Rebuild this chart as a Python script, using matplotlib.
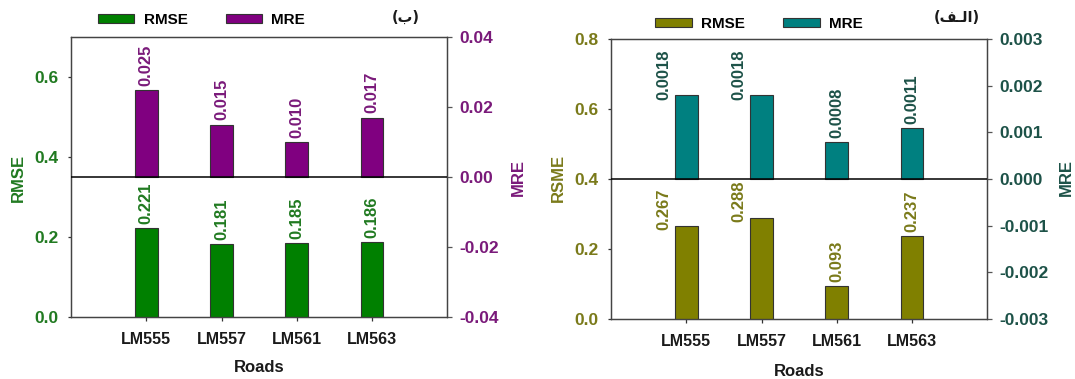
import matplotlib
matplotlib.use("Agg")
import matplotlib.pyplot as plt
import numpy as np

plt.rcParams['font.family'] = ['Liberation Sans', 'DejaVu Sans']
plt.rcParams['font.weight'] = 'bold'

roads = ["LM555", "LM557", "LM561", "LM563"]
rmse_b = [0.221, 0.181, 0.185, 0.186]
mre_b = [0.025, 0.015, 0.010, 0.017]
rmse_a = [0.267, 0.288, 0.093, 0.237]
mre_a = [0.0018, 0.0018, 0.0008, 0.0011]
left_ticks_b = [0.0, 0.2, 0.4, 0.6]
right_ticks_b = [-0.04, -0.02, 0.00, 0.02, 0.04]
left_ticks_a = [0.0, 0.2, 0.4, 0.6, 0.8]
right_ticks_a = [-0.003, -0.002, -0.001, 0.000, 0.001, 0.002, 0.003]

W, H = 1075, 379
fig = plt.figure(figsize=(W / 100, H / 100), dpi=100)

def px_axes(x0, y0, x1, y1):
    return fig.add_axes([x0 / W, 1 - y1 / H, (x1 - x0) / W, (y1 - y0) / H])

def panel(rect, rmse, mre, c1, c2, t1, t2, ylim1, ylim2, lt, rt, lfmt, rfmt,
          ylabel1, fmt1, fmt2, shifts, leg_xy, letter, letter_xy, lab1x, lab2x, roadsy):
    ax = px_axes(*rect)
    ax2 = ax.twinx()
    x = np.arange(1, len(roads) + 1)
    bw = 0.3
    b1 = ax.bar(x, rmse, bw, color=c1, edgecolor='#333333', linewidth=0.8, zorder=3)
    b2 = ax2.bar(x, mre, bw, color=c2, edgecolor='#333333', linewidth=0.8, zorder=3)
    ax.set_xlim(0, 5)
    ax.set_ylim(*ylim1)
    ax2.set_ylim(*ylim2)
    ax.set_xticks(x)
    ax.set_xticklabels(roads, fontsize=11.5, fontweight='bold', color='#1a1a1a')
    ax.set_yticks(lt)
    ax.set_yticklabels([lfmt.format(v) for v in lt], fontsize=12.5, fontweight='bold', color=t1)
    ax2.set_yticks(rt)
    ax2.set_yticklabels([rfmt.format(v) for v in rt], fontsize=12.5, fontweight='bold', color=t2)
    ax.tick_params(axis='y', direction='out', length=2.5, width=0.9, pad=6.5, color='#333333')
    ax.tick_params(axis='x', direction='out', length=3, width=0.9, pad=8, color='#333333')
    ax2.tick_params(axis='y', direction='out', length=3.5, width=0.9, pad=5, color='#555555')
    for a in (ax, ax2):
        for s in a.spines.values():
            s.set_color('#444444')
            s.set_linewidth(0.9)
    ax2.axhline(0, color='black', linewidth=1.1, zorder=4)
    for i, (xi, v) in enumerate(zip(x, rmse)):
        dx = shifts[i]
        ax.annotate(fmt1.format(v), xy=(xi, v), xytext=(dx, 3 if dx == 0 else -3),
                    textcoords='offset points', rotation=90, ha='center', va='bottom',
                    fontsize=12, fontweight='bold', color=t1)
    for i, (xi, v) in enumerate(zip(x, mre)):
        dx = shifts[i]
        ax2.annotate(fmt2.format(v), xy=(xi, v), xytext=(dx, 3 if dx == 0 else -3.5),
                     textcoords='offset points', rotation=90, ha='center', va='bottom',
                     fontsize=12, fontweight='bold', color=t2)
    fig.text(lab1x / W, 1 - 178 / H, ylabel1, rotation=90, ha='center', va='center',
             fontsize=12, fontweight='bold', color=t1)
    fig.text(lab2x / W, 1 - 178 / H, "MRE", rotation=90, ha='center', va='center',
             fontsize=12, fontweight='bold', color=t2)
    fig.text((rect[0] + rect[2]) / 2 / W, 1 - roadsy / H, "Roads", ha='center', va='center',
             fontsize=12, fontweight='bold', color='#1a1a1a')
    leg = ax.legend([b1, b2], ["RMSE", "MRE"], ncol=2, loc='center left',
                    bbox_to_anchor=(leg_xy[0] / W, 1 - leg_xy[1] / H),
                    bbox_transform=fig.transFigure, frameon=False, borderpad=0,
                    borderaxespad=0, handlelength=2.4, handleheight=0.55,
                    handletextpad=0.6, columnspacing=2.5,
                    prop={'size': 11, 'weight': 'bold'})
    fig.text(letter_xy[0] / W, 1 - letter_xy[1] / H, letter, ha='center', va='center',
             fontsize=10.5, fontweight='bold', color='#1a1a1a',
             family=['DejaVu Sans', 'Liberation Sans'])
    return ax, ax2

panel((71, 37.3, 447.3, 316.7), rmse_b, mre_b, '#008000', '#800080', '#217a21', '#7a1a7a',
      (0, 0.7), (-0.04, 0.04), left_ticks_b, right_ticks_b, "{:.1f}", "{:.2f}",
      "RMSE", "{:.3f}", "{:.3f}", [0, 0, 0, 0], (97.7, 20), "(\u0628)", (406, 17),
      18, 518, 367)

panel((611, 39, 987.3, 319), rmse_a, mre_a, '#808000', '#008080', '#7a7a1a', '#1d5248',
      (0, 0.8), (-0.003, 0.003), left_ticks_a, right_ticks_a, "{:.1f}", "{:.3f}",
      "RSME", "{:.3f}", "{:.4f}", [-16, -16, 0, 0], (655, 24),
      "(\uFED2\u0640\uFEDF\uFE8D)", (957, 17), 558, 1066.7, 371)

fig.savefig("out.png", dpi=100)
